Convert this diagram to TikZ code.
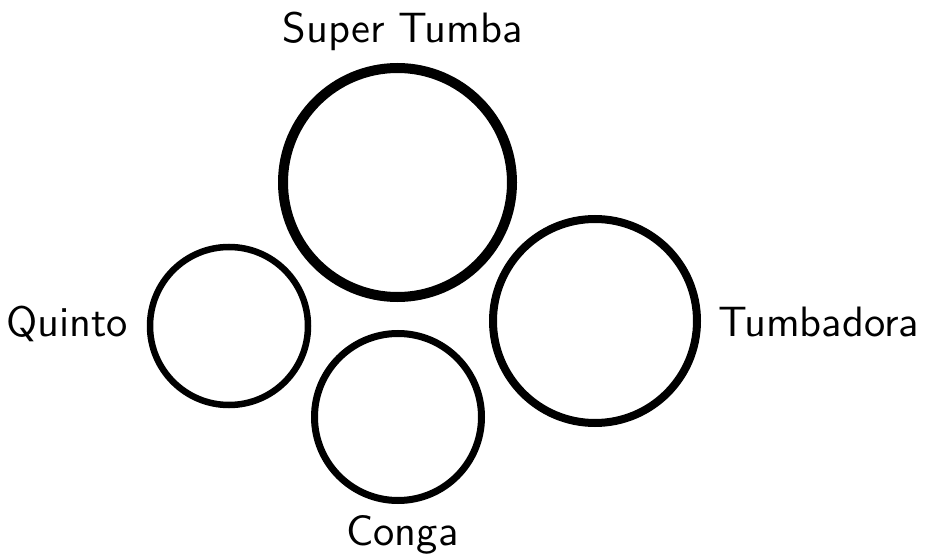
\documentclass[tikz,border=0pt]{standalone}
\usepackage{fontspec}
\setsansfont{lmsans10-regular.otf}
\begin{document}
\begin{tikzpicture}[x=1pt,y=-1pt,
  drum/.style={draw=black,circle,inner sep=0pt,outer sep=0pt},
  lbl/.style={anchor=base,inner sep=0pt,font=\sffamily\fontsize{42.5}{50}\selectfont}]
\useasboundingbox (0,0) rectangle (927,556);
\node[drum,line width=10pt,minimum size=229pt] (super) at (397.5,182.5) {};
\node[drum,line width=6.5pt,minimum size=158pt] (quinto) at (229,326) {};
\node[drum,line width=7pt,minimum size=167pt] (conga) at (398,417) {};
\node[drum,line width=8pt,minimum size=204pt] (tumb) at (595,321) {};
\node[lbl] (lsuper) at (402.5,43) {Super Tumba};
\node[lbl] (lquinto) at (67,337) {Quinto};
\node[lbl] (ltumb) at (819,337) {Tumbadora};
\node[lbl] (lconga) at (402.5,545) {Conga};
\end{tikzpicture}
\end{document}
